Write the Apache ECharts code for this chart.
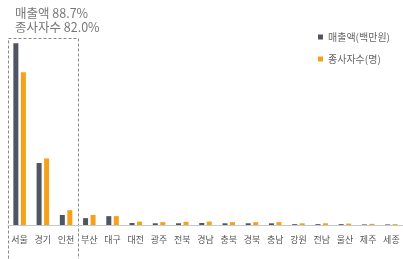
<!DOCTYPE html>
<html>
<head>
<meta charset="utf-8">
<script src="https://cdn.jsdelivr.net/npm/echarts@6/dist/echarts.min.js"></script>
<style>
  html, body { margin: 0; padding: 0; background: #fff; }
  #chart { width: 403px; height: 259px; }
</style>
</head>
<body>
<div id="chart"></div>
<script>
// 지역별 비중(%) - 그림에서 읽은 값
var regions = ['서울', '경기', '인천', '부산', '대구', '대전', '광주', '전북', '경남', '충북', '경북', '충남', '강원', '전남', '울산', '제주', '세종'];
var salesShare = [63.6, 21.7, 3.5, 2.4, 3.1, 0.7, 0.6, 0.6, 0.7, 0.6, 0.6, 0.6, 0.3, 0.3, 0.3, 0.2, 0.2];
var workerShare = [53.5, 23.3, 5.2, 3.5, 3.1, 1.2, 1.0, 1.1, 1.2, 1.0, 1.0, 1.0, 0.6, 0.6, 0.5, 0.4, 0.3];
var seriesNames = ['매출액(백만원)', '종사자수(명)'];
var noteLines = ['매출액 88.7%', '종사자수 82.0%'];

var font = '"Noto Sans CJK KR", "Noto Sans", sans-serif';
var chart = echarts.init(document.getElementById('chart'));

chart.setOption({
  animation: false,
  textStyle: { fontFamily: font },
  grid: { left: 8, right: 0, top: 25, bottom: 34 },
  legend: {
    orient: 'vertical',
    left: 313,
    top: 27,
    itemWidth: 5,
    itemHeight: 5,
    itemGap: 12,
    icon: 'rect',
    textStyle: { fontSize: 10, color: '#666', fontFamily: font },
    data: seriesNames
  },
  xAxis: {
    type: 'category',
    data: regions,
    axisLine: { lineStyle: { color: '#c8c8c8' } },
    axisTick: { show: false },
    axisLabel: { fontSize: 9, color: '#555', margin: 10, interval: 0, fontFamily: font }
  },
  yAxis: {
    type: 'value',
    min: 0,
    max: 70,
    show: false,
    splitLine: { show: false }
  },
  series: [
    { name: seriesNames[0], type: 'bar', data: salesShare, barWidth: 5, barGap: '50%',
      itemStyle: { color: '#4f5563' } },
    { name: seriesNames[1], type: 'bar', data: workerShare, barWidth: 5,
      itemStyle: { color: '#f5a11a' } }
  ],
  graphic: [
    { type: 'text', left: 15, top: 6,
      style: { text: noteLines.join('\n'), fontSize: 12.5, lineHeight: 14, fill: '#777', fontFamily: font } },
    { type: 'rect', shape: { x: 8.5, y: 38.5, width: 70, height: 230 },
      style: { fill: 'none', stroke: '#888', lineWidth: 1, lineDash: [3, 2] } }
  ]
});
</script>
</body>
</html>
